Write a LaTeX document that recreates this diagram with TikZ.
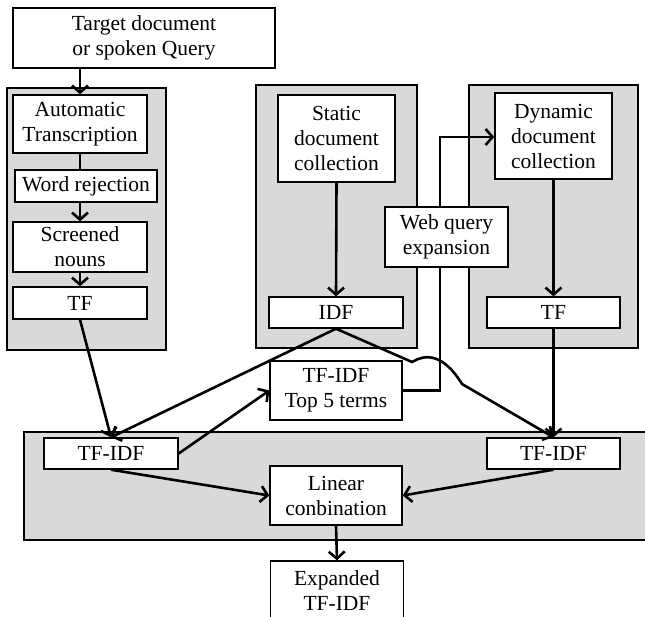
\documentclass[tikz,border=0pt]{standalone}
\usepackage{fontspec}
\setmainfont{Liberation Serif}
\usetikzlibrary{arrows.meta}
\definecolor{grp}{gray}{0.85}
\pgfdeclarelayer{background}
\pgfsetlayers{background,main}

\begin{document}
\begin{tikzpicture}[x=1pt,y=-1pt,
  blk/.style={draw,fill=white,line width=1.4pt,align=center,inner sep=0pt,font=\fontsize{21.5}{25}\selectfont},
  grpbox/.style={draw,fill=grp,line width=2pt},
  arr/.style={line width=2.6pt,-{Straight Barb[length=7pt,width=16pt]}},
  ln/.style={line width=2.6pt}]
\clip (0,0) rectangle (645,617);

\node[blk,minimum width=262pt,minimum height=60pt] (query) at (144,38) {Target document\\or spoken Query};

\node[blk,minimum width=134pt,minimum height=58pt] (asr) at (80,124) {Automatic\\Transcription};
\node[blk,minimum width=142pt,minimum height=32pt,line width=2.8pt] (rej) at (86,186) {Word rejection};
\node[blk,minimum width=134pt,minimum height=50pt] (nouns) at (80,247) {Screened\\nouns};
\node[blk,minimum width=134pt,minimum height=32pt] (tfl) at (80,303) {TF};

\node[blk,minimum width=117pt,minimum height=87pt] (static) at (336.5,138.5) {Static\\document\\collection};
\node[blk,minimum width=134pt,minimum height=31pt] (idf) at (336,312.5) {IDF};

\node[blk,minimum width=117pt,minimum height=86pt] (dyn) at (553.5,136) {Dynamic\\document\\collection};
\node[blk,minimum width=133pt,minimum height=31pt] (tfr) at (553.5,312.5) {TF};

\node[blk,minimum width=123pt,minimum height=60pt] (web) at (446.5,237) {Web query\\expansion};
\node[blk,minimum width=132pt,minimum height=59pt] (top5) at (336,390.5) {TF-IDF\\Top 5 terms};

\node[blk,minimum width=134pt,minimum height=31pt] (tfidfl) at (111,453.5) {TF-IDF};
\node[blk,minimum width=133pt,minimum height=31pt] (tfidfr) at (553.5,453.5) {TF-IDF};
\node[blk,minimum width=132pt,minimum height=59pt] (lin) at (336,495.5) {Linear\\conbination};
\node[blk,minimum width=133pt,minimum height=60pt] (exp) at (337,591) {Expanded\\TF-IDF};

\begin{pgfonlayer}{background}
\draw[grpbox] (7,88) rectangle (166,350);
\draw[grpbox] (256,85) rectangle (417,348);
\draw[grpbox] (469,85) rectangle (638,348);
\draw[grpbox] (24,432) rectangle (660,540);
\coordinate (wq) at (440,137);
\draw[arr] (top5.east) -| (wq) -- (wq -| dyn.west);
\end{pgfonlayer}

\draw[arr] (query.south -| asr.north) -- (asr.north);
\draw[ln] (asr.south) -- (asr.south |- rej.north);
\draw[arr] (nouns.north |- rej.south) -- (nouns.north);
\draw[arr] (nouns.south) -- (tfl.north);
\draw[arr] (static.south) -- (idf.north);
\draw[arr] (dyn.south) -- (tfr.north);

\draw[arr] (tfl.south) -- (tfidfl.north);
\draw[arr] (idf.south) -- (tfidfl.north);
\draw[arr] (idf.south) -- (412,362) .. controls (425,354) and (443,353) .. (462,384) -- (tfidfr.north);
\draw[arr] (tfr.south) -- (tfidfr.north);
\draw[arr] (tfidfl.east) -- (top5.west);
\draw[arr] (tfidfl.south) -- (lin.west);
\draw[arr] (tfidfr.south) -- (lin.east);
\draw[arr] (lin.south) -- (exp.north);
\end{tikzpicture}
\end{document}
